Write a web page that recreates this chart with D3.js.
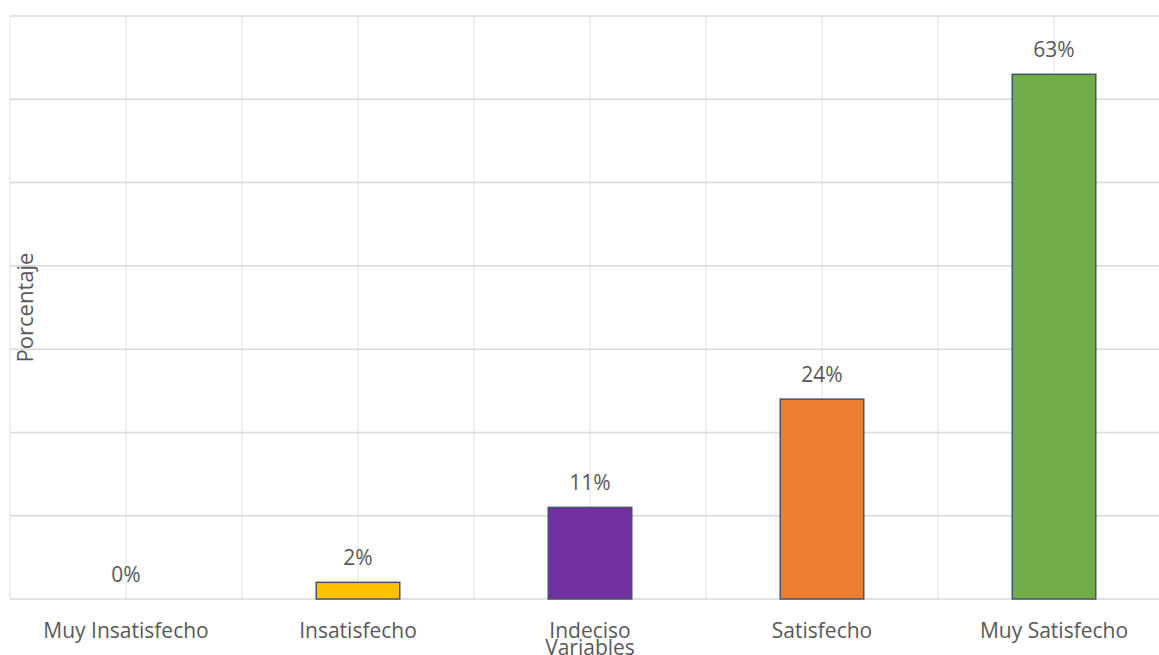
<!DOCTYPE html>
<html>
<head>
<meta charset="utf-8">
<script src="https://cdn.jsdelivr.net/npm/d3@7"></script>
<style>
  html, body { margin: 0; padding: 0; background: #ffffff; }
  svg { display: block; }
  text { font-family: "Open Sans", "Noto Sans", sans-serif; fill: #595959; }
</style>
</head>
<body>
<svg id="chart" width="1159" height="655"></svg>
<script>
// Survey satisfaction levels and their share of responses (%)
const categories = ["Muy Insatisfecho", "Insatisfecho", "Indeciso", "Satisfecho", "Muy Satisfecho"];
const values = [0, 2, 11, 24, 63];
const barColors = ["#A5A5A5", "#FFC000", "#7030A0", "#ED7D31", "#70AD47"];
const yTicks = [0, 10, 20, 30, 40, 50, 60, 70];
const xTitle = "Variables";
const yTitle = "Porcentaje";

const svg = d3.select("#chart");
const margin = { left: 10, right: -11, top: 16, bottom: 56 };
const W = 1159, H = 655;

const x = d3.scaleBand()
  .domain(categories)
  .range([margin.left, W - margin.right])
  .paddingInner(0).paddingOuter(0);

const y = d3.scaleLinear()
  .domain([0, 70])
  .range([H - margin.bottom, margin.top]);

const barW = x.bandwidth() * 0.36;

// vertical gridlines at band edges and band centres
const vLines = [];
categories.forEach(c => { vLines.push(x(c)); vLines.push(x(c) + x.bandwidth() / 2); });
vLines.push(x(categories[categories.length - 1]) + x.bandwidth());

svg.append("g").selectAll("line")
  .data(vLines)
  .join("line")
  .attr("x1", d => d).attr("x2", d => d)
  .attr("y1", y(70)).attr("y2", y(0))
  .attr("stroke", "#ebebeb").attr("stroke-width", 1.5);

// horizontal gridlines from the value axis ticks
svg.append("g").selectAll("line")
  .data(yTicks)
  .join("line")
  .attr("x1", margin.left).attr("x2", W)
  .attr("y1", d => y(d)).attr("y2", d => y(d))
  .attr("stroke", "#d9d9d9").attr("stroke-width", 1.5);

// bars
svg.append("g").selectAll("rect")
  .data(categories.map((c, i) => ({ c, v: values[i], col: barColors[i] })))
  .join("rect")
  .filter(d => d.v > 0)
  .attr("x", d => x(d.c) + x.bandwidth() / 2 - barW / 2)
  .attr("y", d => y(d.v))
  .attr("width", barW)
  .attr("height", d => y(0) - y(d.v))
  .attr("fill", d => d.col)
  .attr("stroke", "#44546A")
  .attr("stroke-width", 1.5);

// value labels
svg.append("g").selectAll("text")
  .data(categories.map((c, i) => ({ c, v: values[i] })))
  .join("text")
  .attr("x", d => x(d.c) + x.bandwidth() / 2)
  .attr("y", d => y(d.v) - 17)
  .attr("text-anchor", "middle")
  .attr("font-size", 21)
  .text(d => d.v + "%");

// category axis labels
const xAxis = d3.axisBottom(x).tickSize(0).tickPadding(0);
const gx = svg.append("g")
  .attr("transform", `translate(0,${y(0)})`)
  .call(xAxis);
gx.select(".domain").remove();
gx.selectAll("text")
  .attr("dy", 0)
  .attr("y", 39)
  .attr("font-size", 21)
  .style("font-family", "'Open Sans', 'Noto Sans', sans-serif")
  .attr("fill", "#595959");

// axis titles
svg.append("text")
  .attr("x", x("Indeciso") + x.bandwidth() / 2)
  .attr("y", 655)
  .attr("text-anchor", "middle")
  .attr("font-size", 21)
  .text(xTitle);

svg.append("text")
  .attr("transform", `translate(33,${(y(0) + y(70)) / 2}) rotate(-90)`)
  .attr("text-anchor", "middle")
  .attr("font-size", 22)
  .text(yTitle);
</script>
</body>
</html>
